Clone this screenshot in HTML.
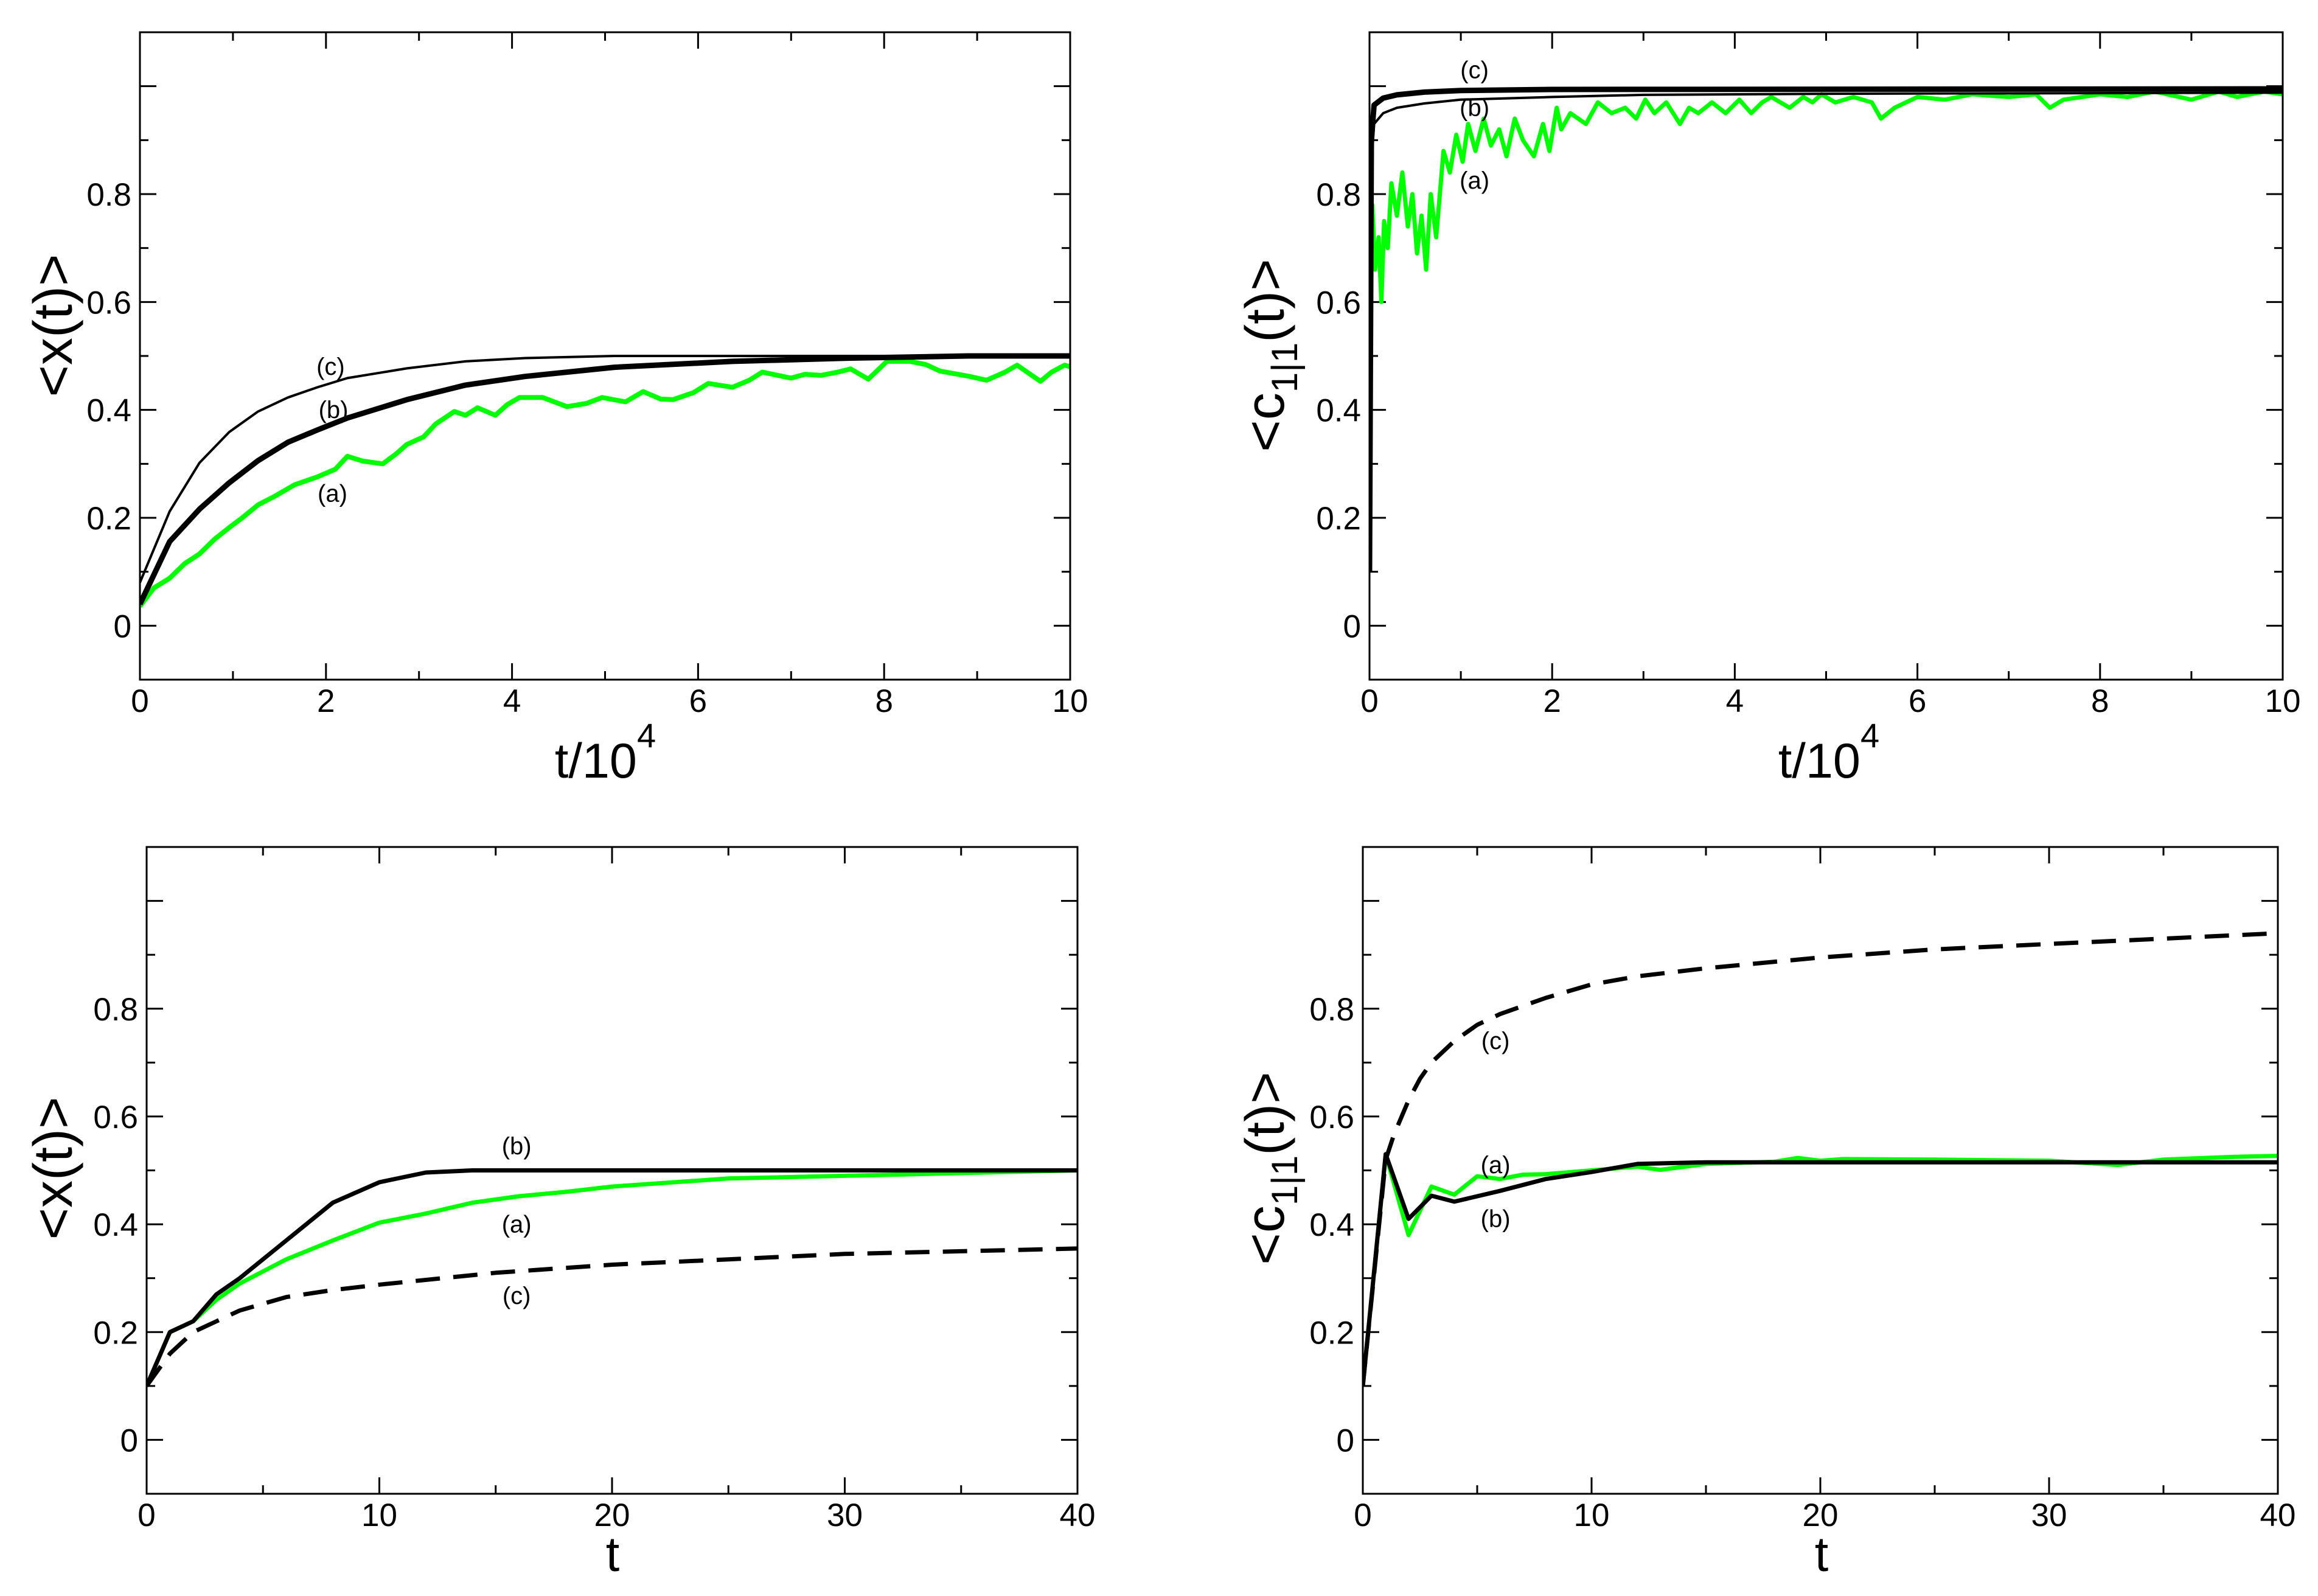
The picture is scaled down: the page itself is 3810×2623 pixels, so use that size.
<!DOCTYPE html>
<html><head><meta charset="utf-8"><style>
html,body{margin:0;padding:0;background:#fff;}
svg{display:block;font-family:"Liberation Sans",sans-serif;}
</style></head><body>
<svg id="fig" width="3810" height="2623" viewBox="0 0 3810 2623" xmlns="http://www.w3.org/2000/svg">
<rect width="3810" height="2623" fill="#fff"/>
</svg>
<script>
// ---- Panel A (top-left): <x(t)> vs t/10^4 ----
const aTc = [0,0.32,0.64,0.96,1.27,1.59,1.91,2.23,2.87,3.5,4.14,5.1,6,10];
const aVc = [0.08,0.212,0.302,0.359,0.397,0.423,0.442,0.459,0.477,0.49,0.496,0.5,0.5,0.5];
const aTb = [0,0.32,0.64,0.96,1.27,1.59,1.91,2.23,2.87,3.5,4.14,5.1,6.37,7.64,8.9,10];
const aVb = [0.04,0.156,0.216,0.265,0.306,0.34,0.363,0.385,0.419,0.446,0.462,0.479,0.49,0.496,0.5,0.5];
const aTa = [0,0.15,0.32,0.48,0.64,0.8,0.96,1.1,1.27,1.45,1.66,1.91,2.1,2.23,2.4,2.61,2.75,2.87,3.05,3.18,3.38,3.5,3.63,3.82,3.95,4.08,4.33,4.59,4.8,4.97,5.22,5.41,5.6,5.73,5.95,6.11,6.37,6.55,6.69,7.0,7.15,7.32,7.5,7.64,7.83,8.03,8.28,8.45,8.6,8.92,9.1,9.3,9.43,9.68,9.8,9.94,10];
const aVa = [0.036,0.07,0.088,0.115,0.133,0.16,0.182,0.2,0.224,0.24,0.261,0.276,0.29,0.314,0.305,0.30,0.318,0.336,0.35,0.374,0.397,0.39,0.404,0.39,0.41,0.423,0.423,0.406,0.412,0.423,0.415,0.434,0.42,0.419,0.432,0.449,0.442,0.455,0.47,0.459,0.466,0.464,0.47,0.476,0.457,0.49,0.49,0.484,0.472,0.462,0.455,0.47,0.483,0.453,0.47,0.483,0.48];

// ---- Panel B (top-right): <c1|1(t)> vs t/10^4 ----
const bTc = [0,0.02,0.05,0.15,0.3,0.6,1.0,2.0,10];
const bVc = [0.1,0.9,0.965,0.978,0.984,0.989,0.992,0.994,0.995];
const bTb = [0,0.02,0.05,0.15,0.3,0.6,1.0,2.0,3.0,5.0,7.5,10];
const bVb = [0.1,0.85,0.93,0.95,0.96,0.968,0.975,0.98,0.984,0.986,0.987,0.988];
const bTa = [0,0.01,0.03,0.06,0.1,0.13,0.16,0.2,0.24,0.3,0.36,0.42,0.47,0.52,0.57,0.62,0.67,0.73,0.81,0.88,0.95,1.02,1.08,1.16,1.25,1.33,1.42,1.5,1.59,1.68,1.8,1.9,1.97,2.05,2.1,2.2,2.37,2.5,2.65,2.8,2.92,3.02,3.12,3.25,3.4,3.5,3.6,3.75,3.9,4.05,4.18,4.3,4.4,4.6,4.75,4.85,4.95,5.1,5.3,5.5,5.6,5.75,6.0,6.3,6.6,7.0,7.3,7.45,7.6,7.8,8.0,8.3,8.6,9.0,9.3,9.5,9.8,10];
const bVa = [0.1,0.6,0.78,0.66,0.72,0.6,0.75,0.7,0.82,0.76,0.84,0.74,0.8,0.69,0.76,0.66,0.8,0.72,0.88,0.84,0.91,0.86,0.93,0.88,0.94,0.89,0.92,0.87,0.94,0.9,0.87,0.93,0.88,0.96,0.92,0.95,0.93,0.97,0.95,0.96,0.94,0.975,0.95,0.97,0.93,0.96,0.95,0.97,0.95,0.975,0.95,0.97,0.98,0.96,0.98,0.97,0.985,0.97,0.98,0.97,0.94,0.96,0.98,0.975,0.985,0.98,0.985,0.96,0.975,0.98,0.985,0.98,0.99,0.975,0.99,0.98,0.99,0.985];

// ---- Panel C (bottom-left): <x(t)> vs t ----
const cTb = [0,1,2,3,4,6,8,10,12,14,20,30,40];
const cVb = [0.1,0.2,0.22,0.27,0.3,0.37,0.44,0.478,0.496,0.5,0.5,0.5,0.5];
const cTa = [0,1,2,3,4,6,8,10,12,14,16,18,20,25,30,35,40];
const cVa = [0.1,0.2,0.22,0.26,0.29,0.335,0.37,0.403,0.42,0.44,0.452,0.46,0.47,0.485,0.49,0.495,0.5];
const cTc = [0,1,2,3,4,6,8,10,15,20,25,30,35,40];
const cVc = [0.1,0.16,0.2,0.22,0.24,0.265,0.278,0.288,0.31,0.325,0.335,0.345,0.35,0.355];

// ---- Panel D (bottom-right): <c1|1(t)> vs t ----
const dTc = [0,1,1.36,2,2.5,3,4,5,6,8,10,12,15,20,25,30,35,40];
const dVc = [0.1,0.52,0.566,0.63,0.67,0.70,0.74,0.77,0.79,0.82,0.845,0.86,0.875,0.895,0.91,0.92,0.93,0.94];
const dTb = [0,1,2,3,4,6,8,10,12,15,20,30,40];
const dVb = [0.1,0.53,0.41,0.453,0.442,0.462,0.484,0.497,0.512,0.515,0.515,0.515,0.515];
const dTa = [0,1,2,3,4,5,6,7,8,10,12,13,15,18,19,20,21,25,30,33,35,38,40];
const dVa = [0.1,0.53,0.38,0.47,0.455,0.489,0.484,0.492,0.493,0.5,0.507,0.501,0.512,0.516,0.523,0.518,0.521,0.52,0.518,0.51,0.52,0.525,0.527];

const NS = "http://www.w3.org/2000/svg";
const svg = document.getElementById('fig');
function mk(tag, attrs, parent){
  const e = document.createElementNS(NS, tag);
  for (const k in attrs) e.setAttribute(k, attrs[k]);
  (parent||svg).appendChild(e);
  return e;
}

function panel(cfg){
  const g = mk('g', {});
  
  
  const L=cfg.L, R=cfg.R, T=cfg.T, B=cfg.B;
  const xs = v => L + (v - cfg.x0) / (cfg.x1 - cfg.x0) * (R - L);
  const ys = v => B - (v + 0.1) / 1.2 * (B - T);
  // ticks
  for (let i=0;i<=10;i++){
    const v = i*0.1; const y = ys(v); const major = (i%2===0);
    const len = major?27:14;
    const t1 = mk('line',{x1:L,y1:y,x2:L+len,y2:y,stroke:'#000','stroke-width':3},g);
    
    
    const t2 = mk('line',{x1:R,y1:y,x2:R-len,y2:y,stroke:'#000','stroke-width':3},g);
    
    
    if (major && i<=8){
      const lb = mk('text',{x:L-14,y:y+19,'font-size':53,'text-anchor':'end',fill:'#000'},g);
      lb.textContent = (i===0)?'0':(v.toFixed(1));
      
      
    }
  }
  const nMinor = cfg.nMinor;
  for (let i=0;i<=nMinor;i++){
    const v = cfg.x0 + i*(cfg.x1-cfg.x0)/nMinor; const x = xs(v); const major = (i%2===0);
    const len = major?27:14;
    const t1 = mk('line',{x1:x,y1:B,x2:x,y2:B-len,stroke:'#000','stroke-width':3},g);
    
    
    const t2 = mk('line',{x1:x,y1:T,x2:x,y2:T+len,stroke:'#000','stroke-width':3},g);
    
    
    if (major){
      const lb = mk('text',{x:x,y:B+53,'font-size':53,'text-anchor':'middle',fill:'#000'},g);
      lb.textContent = String(Math.round(v));
      
      
    }
  }
  // series
  const clip = 'clip-'+cfg.name;
  const cp = mk('clipPath',{id:clip},g);
  mk('rect',{x:L,y:T,width:R-L,height:B-T},cp);
  cfg.series.forEach(s=>{
    let d='';
    s.t.forEach((tv,i)=>{ d += (i?'L':'M') + xs(tv).toFixed(1) + ',' + ys(s.v[i]).toFixed(1); });
    const p = mk('path',{d:d,fill:'none',stroke:s.color,'stroke-width':s.w,'stroke-linejoin':'round','clip-path':'url(#'+clip+')'},g);
    if (s.dash) p.setAttribute('stroke-dasharray', s.dash);
    
    
  });
  // frame
  const fr = mk('rect',{x:L,y:T,width:R-L,height:B-T,fill:'none',stroke:'#000','stroke-width':3},g);
  
  
  // curve labels
  cfg.labels.forEach(lb=>{
    const t = mk('text',{x:xs(lb[1]),y:ys(lb[2]),'font-size':40,'text-anchor':'middle',fill:'#000'},g);
    t.textContent = lb[0];
    
    
  });
  // x title
  const xt = mk('text',{x:cfg.xtx,y:cfg.xty,'font-size':81,'text-anchor':'middle',fill:'#000'},g);
  
  
  if (cfg.sup){
    xt.textContent = 't/10';
    const s = mk('tspan',{dy:-50,'font-size':56},xt); s.textContent='4';
  } else xt.textContent = 't';
  // y title
  const yt = mk('text',{x:0,y:0,'font-size':90,'text-anchor':'middle',fill:'#000',transform:'translate('+cfg.ytx+','+cfg.yty+') rotate(-90)'},g);
  
  
  if (cfg.ycorr){
    const a = mk('tspan',{},yt); a.textContent='<c';
    const b = mk('tspan',{dy:22,'font-size':60},yt); b.textContent='1|1';
    const c = mk('tspan',{dy:-22},yt); c.textContent='(t)>';
  } else yt.textContent = '<x(t)>';
}

const BLACK='#000', GREEN='#00ff00';
panel({name:'panel-x-long', L:230,R:1759,T:53,B:1117,x0:0,x1:10,nMinor:10,sup:true,xtx:995,xty:1278,ytx:118,yty:535,ycorr:false,
  series:[{name:'series-a',t:aTa,v:aVa,color:GREEN,w:8},{name:'series-c',t:aTc,v:aVc,color:BLACK,w:4},{name:'series-b',t:aTb,v:aVb,color:BLACK,w:9}],
  labels:[['(c)',2.05,0.465],['(b)',2.08,0.385],['(a)',2.07,0.23]]});
panel({name:'panel-c-long', L:2251,R:3752,T:53,B:1117,x0:0,x1:10,nMinor:10,sup:true,xtx:3006,xty:1278,ytx:2110,yty:584,ycorr:true,
  series:[{name:'series-a',t:bTa,v:bVa,color:GREEN,w:7},{name:'series-b',t:bTb,v:bVb,color:BLACK,w:4},{name:'series-c',t:bTc,v:bVc,color:BLACK,w:9}],
  labels:[['(c)',1.15,1.015],['(b)',1.15,0.945],['(a)',1.15,0.81]]});
panel({name:'panel-x-short', L:241,R:1771,T:1392,B:2455,x0:0,x1:40,nMinor:8,sup:false,xtx:1007,xty:2582,ytx:118,yty:1920,ycorr:false,
  series:[{name:'series-a',t:cTa,v:cVa,color:GREEN,w:7},{name:'series-c',t:cTc,v:cVc,color:BLACK,w:7,dash:'40,22'},{name:'series-b',t:cTb,v:cVb,color:BLACK,w:7}],
  labels:[['(b)',15.9,0.53],['(a)',15.9,0.385],['(c)',15.9,0.252]]});
panel({name:'panel-c-short', L:2240,R:3744,T:1392,B:2455,x0:0,x1:40,nMinor:8,sup:false,xtx:2994,xty:2582,ytx:2110,yty:1920,ycorr:true,
  series:[{name:'series-a',t:dTa,v:dVa,color:GREEN,w:7},{name:'series-c',t:dTc,v:dVc,color:BLACK,w:7,dash:'40,22'},{name:'series-b',t:dTb,v:dVb,color:BLACK,w:7}],
  labels:[['(c)',5.8,0.725],['(a)',5.8,0.495],['(b)',5.8,0.395]]});
</script>
</body></html>
